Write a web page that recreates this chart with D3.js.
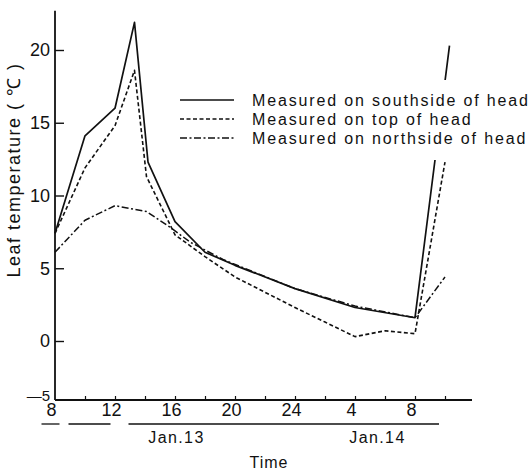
<!DOCTYPE html>
<html>
<head>
<meta charset="utf-8">
<script src="https://cdn.jsdelivr.net/npm/d3@7"></script>
<style>
  body { margin: 0; background: #fff; }
  svg { display: block; }
  text { fill: #111; }
</style>
</head>
<body>
<svg id="chart" width="529" height="472"></svg>
<script>
// ---- data (hours counted from Jan.13 0:00; 32 = Jan.14 8:00) ----
const southTimes  = [8, 10, 12, 13.3, 14.2, 16, 18, 20, 24, 28, 32, 34.3];
const southValues = [7.4, 14.1, 16.0, 21.9, 12.3, 8.2, 6.1, 5.2, 3.6, 2.3, 1.6, 20.3];

const topTimes    = [8, 10, 12, 13.3, 14.1, 16, 18, 20, 24, 26, 28, 30, 32, 34.0];
const topValues   = [7.4, 11.9, 14.8, 18.6, 11.3, 7.3, 5.8, 4.4, 2.3, 1.3, 0.3, 0.7, 0.5, 12.3];

const northTimes  = [8, 10, 12, 14.1, 15.7, 17, 19.2, 24, 28, 32, 34.0];
const northValues = [6.1, 8.3, 9.3, 8.9, 7.8, 6.8, 5.6, 3.6, 2.4, 1.6, 4.4];

const seriesNames = ["Measured on southside of head", "Measured on top of head", "Measured on northside of head"];
const yTickValues = [-5, 0, 5, 10, 15, 20];
const xTickValues = [10, 12, 14, 16, 18, 20, 22, 24, 26, 28, 30, 32, 34];
const xLabelHours = [8, 12, 16, 20, 24, 28, 32];
const dateLabels  = ["Jan.13", "Jan.14"];
const dateLabelHours = [16.1, 29.5];
const dateBars    = [[7.1, 8.3], [8.9, 11.7], [12.9, 33.6]];

// ---- scales ----
const x = d3.scaleLinear().domain([8, 36]).range([55, 475]);
const y = d3.scaleLinear().domain([-5, 0, 25]).range([400, 341, -22.75]);

const svg = d3.select("#chart");
const numFont = "'Liberation Sans Narrow', 'Liberation Sans', Arial, sans-serif";
const txtFont = "'Liberation Sans', Arial, sans-serif";

// ---- series lines ----
const line = d3.line().x(d => x(d[0])).y(d => y(d[1]));
const series = [
  { t: southTimes, v: southValues, dash: null, w: 1.7 },
  { t: topTimes,   v: topValues,   dash: "4,2.5", w: 1.6 },
  { t: northTimes, v: northValues, dash: "7,2.5,2,2.5", w: 1.5 }
];
series.forEach(s => {
  svg.append("path")
    .datum(s.t.map((t, i) => [t, s.v[i]]))
    .attr("d", line)
    .attr("fill", "none")
    .attr("stroke", "#111")
    .attr("stroke-width", s.w)
    .attr("stroke-dasharray", s.dash)
    .attr("stroke-linejoin", "round");
});

// ---- legend (white backdrop hides line behind it, as in the print) ----
svg.append("rect").attr("x", 246).attr("y", 80).attr("width", 283).attr("height", 80).attr("fill", "#fff");
const leg = svg.append("g");
seriesNames.forEach((name, i) => {
  const by = 106 + i * 19;
  leg.append("line")
    .attr("x1", 180).attr("x2", 234)
    .attr("y1", by - 6).attr("y2", by - 6)
    .attr("stroke", "#111")
    .attr("stroke-width", 1.4)
    .attr("stroke-dasharray", series[i].dash);
  leg.append("text")
    .attr("x", 252).attr("y", by)
    .attr("font-family", txtFont)
    .attr("font-size", 16)
    .attr("letter-spacing", 1.85)
    .text(name);
});

// ---- y axis ----
const yAxis = d3.axisLeft(y)
  .tickValues(yTickValues)
  .tickSizeInner(-9)
  .tickSizeOuter(0)
  .tickPadding(5)
  .tickFormat(d => d < 0 ? "\u2014" + Math.abs(d) : d);
const gy = svg.append("g").attr("transform", `translate(${x(8)},0)`).call(yAxis);
gy.select(".domain").remove();
gy.selectAll(".tick line").attr("stroke", "#111").attr("stroke-width", 1.4)
  .filter(d => d === -5).remove();
gy.selectAll(".tick text").attr("font-family", numFont).attr("font-size", 18).attr("fill", "#111");
gy.selectAll(".tick text").filter(d => d === -5)
  .attr("font-size", 15).attr("dy", "0.05em");
svg.append("line")
  .attr("x1", x(8)).attr("x2", x(8))
  .attr("y1", y(-5)).attr("y2", y(22.7))
  .attr("stroke", "#111").attr("stroke-width", 1.8);

// ---- x axis ----
const xAxis = d3.axisBottom(x)
  .tickValues(xLabelHours.concat(xTickValues).filter((v, i, a) => a.indexOf(v) === i))
  .tickSizeInner(-4)
  .tickSizeOuter(0)
  .tickPadding(5)
  .tickFormat(d => xLabelHours.includes(d) ? String(d > 24 ? d - 24 : d) : "");
const gx = svg.append("g").attr("transform", `translate(0,${y(-5)})`).call(xAxis);
gx.select(".domain").remove();
gx.selectAll(".tick line").attr("stroke", "#111").attr("stroke-width", 1.2)
  .filter(d => d === 8).remove();
gx.selectAll(".tick text").attr("font-family", numFont).attr("font-size", 18)
  .attr("fill", "#111").attr("dx", -4).attr("dy", "0.62em");
svg.append("line")
  .attr("x1", x(8)).attr("x2", x(35.8))
  .attr("y1", y(-5)).attr("y2", y(-5))
  .attr("stroke", "#111").attr("stroke-width", 1.8);

// ---- date bars & labels ----
dateBars.forEach(b => {
  svg.append("line")
    .attr("x1", x(b[0])).attr("x2", x(b[1]))
    .attr("y1", 424).attr("y2", 424)
    .attr("stroke", "#111").attr("stroke-width", 1.3);
});
dateLabels.forEach((lab, i) => {
  svg.append("text")
    .attr("x", x(dateLabelHours[i])).attr("y", 443)
    .attr("text-anchor", "middle")
    .attr("font-family", txtFont).attr("font-size", 16)
    .attr("letter-spacing", 1.4)
    .text(lab);
});

// ---- axis titles ----
svg.append("text")
  .attr("x", 269).attr("y", 468)
  .attr("text-anchor", "middle")
  .attr("font-family", txtFont).attr("font-size", 16)
  .attr("letter-spacing", 1)
  .text("Time");
svg.append("text")
  .attr("transform", "translate(20,170) rotate(-90)")
  .attr("text-anchor", "middle")
  .attr("font-family", txtFont).attr("font-size", 18)
  .attr("letter-spacing", 1.5)
  .text("Leaf temperature ( \u2103 )");
</script>
</body>
</html>
